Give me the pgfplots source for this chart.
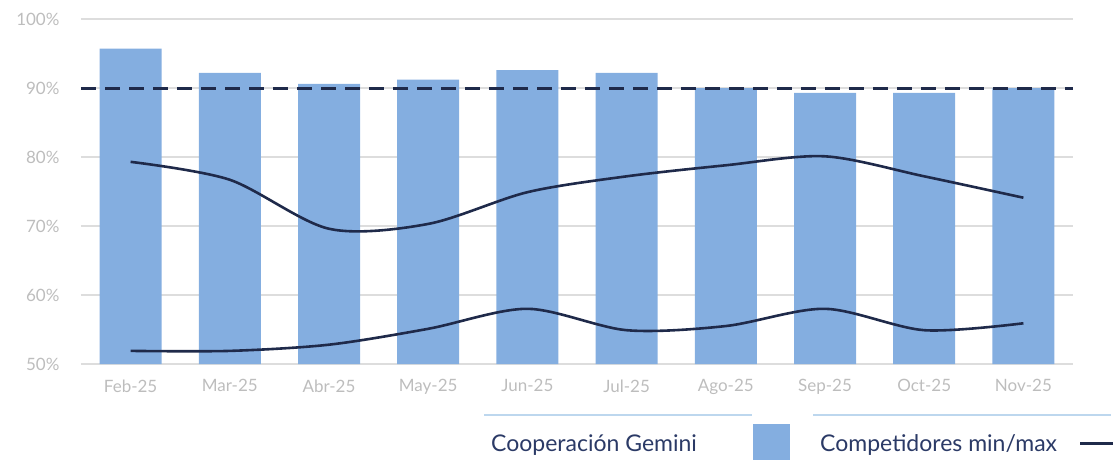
\documentclass[border=0pt]{standalone}
\usepackage{pgfplots}
\pgfplotsset{compat=1.18}
\usepackage{fontspec}
\setmainfont{Lato}
\definecolor{barblue}{HTML}{84AEE0}
\definecolor{navy}{HTML}{1F2A4A}
\definecolor{gridgray}{HTML}{DDDDDD}
\definecolor{ticktext}{HTML}{BDBDBD}
\definecolor{legline}{HTML}{BDD7EE}
\definecolor{legtext}{HTML}{2B3A66}
\begin{document}
\begin{tikzpicture}[x=1pt,y=1pt]
\useasboundingbox (0,0) rectangle (1113,464);
\begin{axis}[
  at={(81pt,100pt)}, anchor=south west,
  scale only axis, width=992pt, height=345pt,
  xmin=-0.5, xmax=9.5, ymin=50, ymax=100,
  axis line style={draw=none},
  tick style={draw=none},
  ytick={50,60,70,80,90,100},
  yticklabel={\pgfmathprintnumber{\tick}\%},
  /pgf/number format/assume math mode=true,
  ymajorgrids, grid style={gridgray, line width=1.2pt},
  xtick={0,...,9},
  xticklabels={Feb-25,Mar-25,Abr-25,May-25,Jun-25,Jul-25,Ago-25,Sep-25,Oct-25,Nov-25},
  ticklabel style={font=\fontsize{17}{20}\selectfont, text=ticktext},
  yticklabel style={xshift=-18pt},
  xticklabel style={yshift=-12pt},
  clip=false,
]
\addplot[ybar, bar width=62pt, fill=barblue, draw=none, bar shift=0pt] coordinates {
(0,95.7) (1,92.2) (2,90.6) (3,91.2) (4,92.6) (5,92.2) (6,90.0) (7,89.3) (8,89.3) (9,90.0)};
\addplot[navy, line width=3pt, dash pattern=on 15pt off 9pt] coordinates {(-0.5,90) (9.5,90)};
\addplot[navy, line width=2.6pt, smooth, tension=0.5] coordinates {
(0,79.3) (1,76.7) (2,69.6) (3,70.3) (4,74.9) (5,77.2) (6,78.8) (7,80.1) (8,77.2) (9,74.1)};
\addplot[navy, line width=2.6pt, smooth, tension=0.5] coordinates {
(0,51.9) (1,51.9) (2,52.8) (3,55.1) (4,58.0) (5,54.9) (6,55.5) (7,58.0) (8,54.9) (9,55.9)};
\end{axis}
% legend
\draw[legline, line width=1.5pt] (484,49) -- (752,49);
\draw[legline, line width=1.5pt] (813,49) -- (1111,49);
\node[anchor=base west, text=legtext, font=\fontsize{23}{26}\selectfont, inner sep=0] at (491,13) {Cooperación Gemini};
\fill[barblue] (753,4) rectangle (790,40);
\node[anchor=base west, text=legtext, font=\fontsize{23}{26}\selectfont, inner sep=0] at (820,13) {Competidores min/max};
\draw[navy, line width=3pt] (1080,21) -- (1113,21);
\end{tikzpicture}
\end{document}
